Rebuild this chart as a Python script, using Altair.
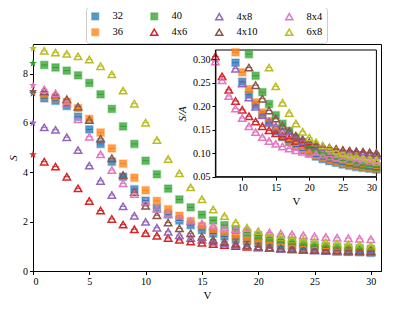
import math
import altair as alt
import pandas as pd

V = list(range(31))
series_names = ["32", "36", "40", "4x6", "4x8", "4x10", "8x4", "6x8"]
series_colors = ["#1f77b4", "#ff7f0e", "#2ca02c", "#d62728", "#9467bd", "#8c564b", "#e377c2", "#bcbd22"]
series_shapes = ["square", "square", "square", "triangle-up", "triangle-up", "triangle-up", "triangle-up", "triangle-up"]
series_fills = ["rgba(31,119,180,0.75)", "rgba(255,127,14,0.75)", "rgba(44,160,44,0.75)",
                "transparent", "transparent", "transparent", "transparent", "transparent"]
series_strokes = ["rgba(31,119,180,0.3)", "rgba(255,127,14,0.3)", "rgba(44,160,44,0.3)",
                  "#d62728", "#9467bd", "#8c564b", "#e377c2", "#bcbd22"]
legend_order = ["32", "40", "4x8", "8x4", "36", "4x6", "4x10", "6x8"]
# normalisation A of the inset (S/A), read as ratio between inset and main panel
A_norm = [11.3, 12.0, 12.6, 8.0, 8.0, 8.0, 16.0, 12.0]

S_32 = [7.20, 7.00, 6.90, 6.69, 6.25, 5.74, 5.15, 4.43, 3.82, 3.31, 2.85, 2.54, 2.29, 2.05, 1.86, 1.66,
        1.52, 1.40, 1.29, 1.20, 1.12, 1.05, 0.99, 0.94, 0.90, 0.86, 0.83, 0.80, 0.78, 0.76, 0.74]
S_36 = [7.25, 7.09, 7.00, 6.85, 6.60, 6.16, 5.61, 4.97, 4.35, 3.78, 3.27, 2.84, 2.50, 2.24, 2.02, 1.82,
        1.65, 1.52, 1.40, 1.30, 1.22, 1.15, 1.09, 1.04, 0.99, 0.95, 0.91, 0.88, 0.85, 0.83, 0.81]
S_40 = [8.42, 8.35, 8.25, 8.12, 7.93, 7.62, 7.16, 6.57, 5.86, 5.15, 4.47, 3.92, 3.34, 2.90, 2.58, 2.28,
        2.05, 1.86, 1.68, 1.55, 1.44, 1.35, 1.27, 1.20, 1.13, 1.07, 1.02, 0.98, 0.95, 0.92, 0.89]
S_4x6 = [4.72, 4.43, 4.23, 3.82, 3.35, 2.84, 2.45, 2.11, 1.88, 1.69, 1.54, 1.43, 1.34, 1.26, 1.19, 1.14,
         1.09, 1.05, 1.01, 0.98, 0.95, 0.93, 0.91, 0.89, 0.87, 0.85, 0.84, 0.83, 0.82, 0.81, 0.80]
S_4x8 = [6.00, 5.82, 5.72, 5.42, 4.90, 4.27, 3.65, 3.08, 2.62, 2.24, 1.99, 1.75, 1.59, 1.45, 1.34, 1.26,
         1.18, 1.12, 1.06, 1.01, 0.97, 0.93, 0.90, 0.87, 0.85, 0.83, 0.81, 0.79, 0.78, 0.77, 0.76]
S_4x10 = [7.28, 7.27, 7.13, 6.96, 6.66, 6.12, 5.36, 4.57, 3.89, 3.20, 2.64, 2.26, 1.96, 1.73, 1.53, 1.39,
          1.27, 1.18, 1.10, 1.04, 0.99, 0.95, 0.92, 0.89, 0.87, 0.85, 0.84, 0.83, 0.82, 0.81, 0.80]
S_8x4 = [7.52, 7.36, 7.20, 6.80, 6.15, 5.44, 4.73, 4.09, 3.55, 3.12, 2.80, 2.52, 2.32, 2.15, 2.02, 1.92,
         1.83, 1.76, 1.70, 1.65, 1.60, 1.56, 1.52, 1.49, 1.45, 1.41, 1.38, 1.35, 1.33, 1.31, 1.29]
S_6x8 = [9.02, 8.92, 8.85, 8.80, 8.70, 8.57, 8.30, 7.97, 7.31, 6.78, 6.01, 5.31, 4.54, 3.96, 3.39, 2.91,
         2.49, 2.23, 1.96, 1.75, 1.60, 1.48, 1.39, 1.32, 1.26, 1.20, 1.16, 1.12, 1.08, 1.05, 1.02]

all_S = [S_32, S_36, S_40, S_4x6, S_4x8, S_4x10, S_8x4, S_6x8]

rows = []
for name, vals, a in zip(series_names, all_S, A_norm):
    for v, s in zip(V, vals):
        rows.append({"series": name, "V": v, "S": s, "SA": s / a})
df = pd.DataFrame(rows)

idx = [series_names.index(n) for n in legend_order]
col_range = [series_colors[i] for i in idx]
fill_range = [series_fills[i] for i in idx]
stroke_range = [series_strokes[i] for i in idx]
shape_range = [series_shapes[i] for i in idx]

# five-pointed star symbol path in the [-1, 1] box
pts = []
for k in range(10):
    r = 1.0 if k % 2 == 0 else 0.4
    ang = math.radians(-90 + 36 * k)
    pts.append(f"{r * math.cos(ang):.3f},{r * math.sin(ang):.3f}")
STAR = "M" + "L".join(pts) + "Z"

FONT = "Liberation Serif"

leg = alt.Legend(title=None, orient="none", legendX=53, legendY=-37, columns=4,
                 direction="horizontal")


def enc_fill(legend):
    return alt.Fill("series:N", scale=alt.Scale(domain=legend_order, range=fill_range), legend=legend)


def enc_stroke(legend):
    return alt.Stroke("series:N", scale=alt.Scale(domain=legend_order, range=stroke_range), legend=legend)


def enc_shape(legend):
    return alt.Shape("series:N", scale=alt.Scale(domain=legend_order, range=shape_range), legend=legend)


color_enc = alt.Color("series:N", scale=alt.Scale(domain=legend_order, range=col_range), legend=None)

# ---- main panel
mx = alt.X("V:Q", scale=alt.Scale(domain=[0, 30.9], nice=False, zero=False),
           axis=alt.Axis(orient="bottom", values=[0, 5, 10, 15, 20, 25, 30], title="V", titlePadding=3))
my = alt.Y("S:Q", scale=alt.Scale(domain=[0, 9.2], nice=False),
           axis=alt.Axis(orient="left", values=[0, 2, 4, 6, 8], title="S", titleFontStyle="italic",
                         titlePadding=4))

base_main = alt.Chart(df)
main_pts = base_main.transform_filter("datum.V > 0").mark_point(
    filled=True, size=55, strokeWidth=1.5, opacity=1).encode(
    x=mx, y=my, fill=enc_fill(leg), stroke=enc_stroke(leg), shape=enc_shape(leg))
main_caps = base_main.transform_filter("datum.V > 0").mark_point(
    shape="stroke", size=40, strokeWidth=1, filled=False, opacity=1).encode(
    x=mx, y=my, color=color_enc)
main_stars = base_main.transform_filter("datum.V == 0").mark_point(
    shape=STAR, filled=True, size=70, opacity=1).encode(x=mx, y=my, color=color_enc)

main_layer = alt.layer(main_pts, main_caps, main_stars)

# ---- inset
inset_x_lim = [6, 30]
inset_y_lim = [0.05, 0.32]
box = pd.DataFrame({"x0": [inset_x_lim[0]], "x1": [inset_x_lim[1]],
                    "y0": [inset_y_lim[0]], "y1": [inset_y_lim[1]]})

ix_scale = alt.Scale(domain=inset_x_lim, range=[182.4, 343.4], nice=False, zero=False)
iy_scale = alt.Scale(domain=inset_y_lim, range=[132.7, 6], nice=False, zero=False)

ix_axis = alt.Axis(orient="bottom", offset=-94.3, values=[10, 15, 20, 25, 30], title="V",
                   titlePadding=3, zindex=2)
iy_axis = alt.Axis(orient="left", offset=-182.4, values=[0.05, 0.10, 0.15, 0.20, 0.25, 0.30],
                   format=".2f", title="S/A", titleFontStyle="italic", titlePadding=5, zindex=2)

inset_box = alt.Chart(box).mark_rect(fill="white", stroke="black", strokeWidth=1).encode(
    x=alt.X("x0:Q", scale=ix_scale, axis=ix_axis),
    x2="x1:Q",
    y=alt.Y("y0:Q", scale=iy_scale, axis=iy_axis),
    y2="y1:Q")

inset_df = alt.Chart(df).transform_filter("datum.V >= 6 && datum.SA <= 0.325")
ix = alt.X("V:Q", scale=ix_scale, axis=ix_axis)
iy = alt.Y("SA:Q", scale=iy_scale, axis=iy_axis)
inset_pts = inset_df.mark_point(filled=True, size=55, strokeWidth=1.5, opacity=1).encode(
    x=ix, y=iy, fill=enc_fill(None), stroke=enc_stroke(None), shape=enc_shape(None))
inset_caps = inset_df.mark_point(shape="stroke", size=40, strokeWidth=1, filled=False, opacity=1).encode(
    x=ix, y=iy, color=color_enc)

inset_layer = alt.layer(inset_box, inset_pts, inset_caps)

chart = alt.layer(main_layer, inset_layer).resolve_scale(
    x="independent", y="independent").resolve_axis(
    x="independent", y="independent").properties(
    width=348, height=227,
    autosize=alt.AutoSizeParams(type="none"),
    padding={"left": 25, "top": 36, "right": 5, "bottom": 30},
).configure_view(stroke="black", strokeWidth=1).configure_axis(
    grid=False, domainColor="black", domainWidth=1, tickColor="black", tickSize=3.5,
    labelColor="black", labelFont=FONT, labelFontSize=10, labelPadding=2,
    titleFont=FONT, titleFontSize=11, titleFontWeight="normal", titleColor="black",
).configure_legend(
    labelFont=FONT, labelFontSize=10.5, labelColor="black", symbolSize=50, symbolStrokeWidth=1.5,
    labelOffset=12, columnPadding=24, rowPadding=2, padding=4,
    strokeColor="#cccccc", fillColor="white", cornerRadius=3,
)

chart.save("out.html", embed_options={"renderer": "svg", "actions": False})
